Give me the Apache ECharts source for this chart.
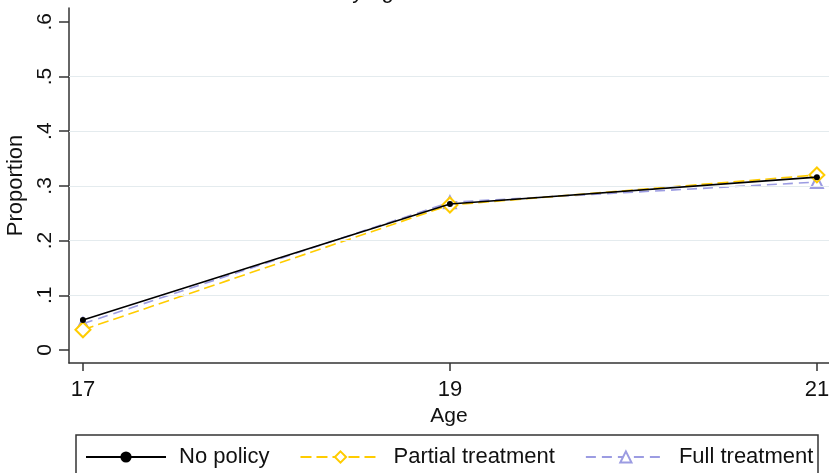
<!DOCTYPE html>
<html>
<head>
<meta charset="utf-8">
<script src="https://cdn.jsdelivr.net/npm/echarts@6/dist/echarts.min.js"></script>
<style>
  html, body { margin: 0; padding: 0; background: #fff; }
  #chart { width: 829px; height: 473px; }
</style>
</head>
<body>
<div id="chart"></div>
<script>
// Age points on the x axis
const ages = [17, 19, 21];
// Proportion at each age, per scenario
const noPolicy = [0.055, 0.267, 0.316];
const partialTreatment = [0.037, 0.265, 0.320];
const fullTreatment = [0.048, 0.270, 0.307];
// Axis ticks and horizontal reference lines
const xTicks = [17, 19, 21];
const yTicks = [0, 0.1, 0.2, 0.3, 0.4, 0.5, 0.6];
const yTickLabels = ['0', '.1', '.2', '.3', '.4', '.5', '.6'];
const gridLevels = [0.1, 0.2, 0.3, 0.4, 0.5];
const seriesNames = ['No policy', 'Partial treatment', 'Full treatment'];

const FONT = 'Liberation Sans, Arial, sans-serif';
const AXIS_COLOR = '#333333';
const TEXT_COLOR = '#111111';

const pairs = vals => ages.map((a, i) => [a, vals[i]]);

const chart = echarts.init(document.getElementById('chart'), null, { renderer: 'canvas' });

chart.setOption({
  animation: false,
  backgroundColor: '#ffffff',
  textStyle: { fontFamily: FONT },
  grid: { left: 69, top: 8, width: 760, height: 355, containLabel: false, outerBoundsMode: 'none' },
  xAxis: {
    type: 'value',
    min: 16.924,
    max: 21.066,
    name: 'Age',
    nameLocation: 'middle',
    nameGap: 37,
    nameTextStyle: { fontSize: 21, color: TEXT_COLOR, fontFamily: FONT },
    axisLine: { show: true, onZero: false, lineStyle: { color: AXIS_COLOR, width: 1.5 } },
    axisTick: { show: true, length: 8, customValues: xTicks, lineStyle: { color: AXIS_COLOR, width: 1.5 } },
    axisLabel: { customValues: xTicks, fontSize: 22, color: TEXT_COLOR, margin: 16, fontFamily: FONT },
    splitLine: { show: false }
  },
  yAxis: {
    type: 'value',
    min: -0.0238,
    max: 0.6252,
    name: 'Proportion',
    nameLocation: 'middle',
    nameGap: 33,
    nameTextStyle: { fontSize: 22, color: TEXT_COLOR, fontFamily: FONT },
    axisLine: { show: true, onZero: false, lineStyle: { color: AXIS_COLOR, width: 1.5 } },
    axisTick: { show: true, length: 10, customValues: yTicks, lineStyle: { color: AXIS_COLOR, width: 1.5 } },
    axisLabel: {
      customValues: yTicks,
      rotate: 90,
      fontSize: 21,
      color: TEXT_COLOR,
      margin: 13,
      fontFamily: FONT,
      formatter: v => {
        const i = yTicks.findIndex(t => Math.abs(t - v) < 1e-9);
        return i >= 0 ? yTickLabels[i] : '';
      }
    },
    splitLine: { show: false }
  },
  legend: {
    left: 76,
    top: 446,
    padding: [0, 0, 0, 9],
    itemWidth: 80,
    itemHeight: 14,
    itemGap: 30,
    data: seriesNames,
    textStyle: { fontSize: 22, color: TEXT_COLOR, fontFamily: FONT, padding: [0, 0, 0, 8] }
  },
  graphic: [
    {
      type: 'text',
      x: 406,
      y: 3,
      silent: true,
      style: {
        text: 'Outcome by age',
        textAlign: 'right',
        textVerticalAlign: 'bottom',
        font: '22px ' + FONT,
        fill: TEXT_COLOR
      }
    },
    {
      type: 'rect',
      silent: true,
      shape: { x: 76, y: 435, width: 742, height: 60 },
      style: { fill: 'none', stroke: AXIS_COLOR, lineWidth: 1.5 }
    }
  ],
  series: [
    {
      // horizontal reference lines behind the data
      name: 'grid',
      type: 'line',
      data: [],
      z: 1,
      silent: true,
      markLine: {
        silent: true,
        symbol: 'none',
        label: { show: false },
        lineStyle: { color: '#e4ebee', width: 1.2, type: 'solid' },
        data: gridLevels.map(v => ({ yAxis: v }))
      }
    },
    {
      name: seriesNames[0],
      type: 'line',
      z: 5,
      data: pairs(noPolicy),
      symbol: 'circle',
      symbolSize: 6,
      lineStyle: { color: '#000000', width: 1.6, type: 'solid' },
      itemStyle: { color: '#000000' }
    },
    {
      name: seriesNames[1],
      type: 'line',
      z: 4,
      data: pairs(partialTreatment),
      symbol: 'emptyDiamond',
      symbolSize: 15,
      lineStyle: { color: '#ffcc00', width: 1.6, type: [11, 5] },
      itemStyle: { color: '#ffcc00', borderColor: '#ffcc00', borderWidth: 1.5 }
    },
    {
      name: seriesNames[2],
      type: 'line',
      z: 3,
      data: pairs(fullTreatment),
      symbol: 'emptyTriangle',
      symbolSize: 12,
      lineStyle: { color: '#9c9ce2', width: 1.6, type: [10, 6] },
      itemStyle: { color: '#9c9ce2', borderColor: '#9c9ce2', borderWidth: 1.5 }
    }
  ]
});
</script>
</body>
</html>
